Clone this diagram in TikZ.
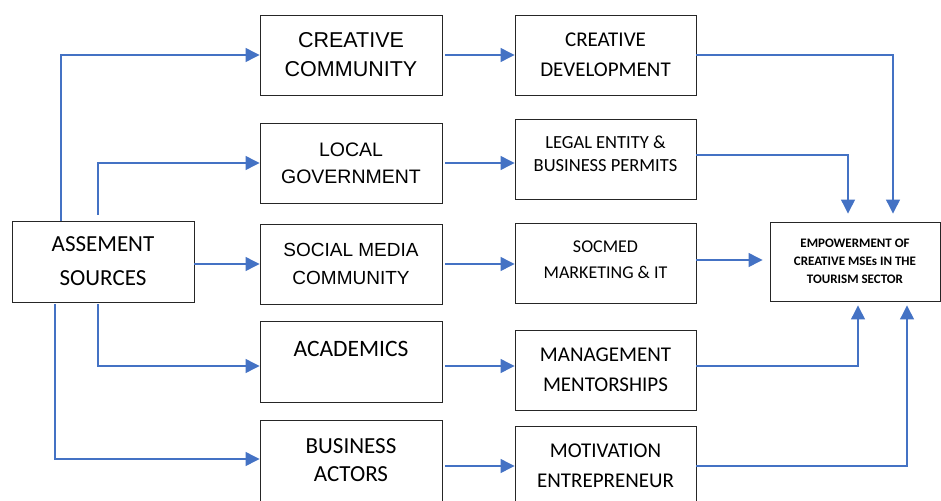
\documentclass[tikz,border=0pt]{standalone}
\usepackage{fontspec}
\setmainfont{Liberation Sans}
\newfontfamily\calib{Carlito}
\usetikzlibrary{arrows.meta}
\definecolor{arrblue}{HTML}{4472C4}

\begin{document}
\begin{tikzpicture}[
  x=1pt, y=-1pt,
  box/.style={
    rectangle, draw=black!85, line width=0.9pt,
    inner sep=0pt, align=center, fill=white,
    minimum width=182pt, minimum height=80pt
  },
  arrow/.style={-{Triangle[length=14pt, width=14pt]}, line width=1.2pt, color=arrblue}
]
\useasboundingbox (0,0) rectangle (941,500);

% Source
\node[box, minimum height=81pt, font=\calib\fontsize{23}{34}\selectfont] (asm) at (103,261.5) {ASSEMENT\\SOURCES};

% Stakeholders
\node[box, font=\fontsize{21.5}{29}\selectfont] (cc) at (351,55) {CREATIVE\\COMMUNITY};
\node[box, font=\fontsize{19.5}{27}\selectfont] (lg) at (351,163) {LOCAL\\GOVERNMENT};
\node[box, font=\fontsize{19}{27.5}\selectfont] (smc) at (351,264) {SOCIAL MEDIA\\COMMUNITY};
\node[box, minimum height=81pt, font=\calib\fontsize{23.5}{25.7}\selectfont] (acad) at (351,361.5) {ACADEMICS\\\mbox{}};
\node[box, minimum height=81pt, font=\calib\fontsize{23}{28}\selectfont] (ba) at (351,460.5) {BUSINESS\\ACTORS};

% Programmes
\node[box, minimum width=181pt, font=\calib\fontsize{21}{30}\selectfont] (cd) at (605.5,55) {CREATIVE\\DEVELOPMENT};
\node[box, minimum width=181pt, font=\calib\fontsize{18.5}{23}\selectfont] (le) at (605.5,159) {LEGAL ENTITY \&\\BUSINESS PERMITS\\[-13pt]\mbox{}};
\node[box, minimum width=181pt, font=\calib\fontsize{18}{26}\selectfont] (socm) at (605.5,263) {SOCMED\\MARKETING \& IT\\[-19pt]\mbox{}};
\node[box, minimum width=181pt, font=\calib\fontsize{21}{30}\selectfont] (mgmt) at (605.5,370) {MANAGEMENT\\MENTORSHIPS};
\node[box, minimum width=181pt, font=\calib\fontsize{21}{30}\selectfont] (mot) at (605.5,466) {MOTIVATION\\ENTREPRENEUR};

% Outcome
\node[box, minimum width=170pt, minimum height=79pt, font=\calib\bfseries\fontsize{13}{18}\selectfont] (emp) at (855,261.5) {EMPOWERMENT OF\\CREATIVE MSEs IN THE\\TOURISM SECTOR};

% Arrows: sources to stakeholders
\draw[arrow] ([xshift=-42pt]asm.north) |- (cc.west);
\draw[arrow] ([xshift=-5pt,yshift=6pt]asm.north) |- (lg.west);
\draw[arrow] (asm.east |- smc.west) -- (smc.west);
\draw[arrow] ([xshift=-5pt,yshift=-2pt]asm.south) |- ([yshift=-4.5pt]acad.west);
\draw[arrow] ([xshift=-48pt,yshift=-2pt]asm.south) |- ([yshift=1.5pt]ba.west);

% Arrows: stakeholders to programmes
\draw[arrow] ([xshift=3pt]cc.east) -- (cd.west);
\draw[arrow] ([xshift=3pt]lg.east) -- (lg.east -| le.west);
\draw[arrow] ([xshift=3pt]smc.east) -- (smc.east -| socm.west);
\draw[arrow] ([xshift=3pt,yshift=-4.5pt]acad.east) -- ([yshift=-4.5pt]acad.east -| mgmt.west);
\draw[arrow] ([xshift=3pt]mot.west -| ba.east) -- (mot.west);

% Arrows: programmes to outcome
\draw[arrow] (cd.east) -| ([xshift=38pt,yshift=8pt]emp.north);
\draw[arrow] ([yshift=4pt]le.east) -| ([xshift=-7pt,yshift=8pt]emp.north);
\draw[arrow] ([yshift=3pt]socm.east) -- ([xshift=-7pt,yshift=1.5pt]emp.west);
\draw[arrow] ([yshift=4pt]mgmt.east) -| ([xshift=3pt,yshift=-4pt]emp.south);
\draw[arrow] (mot.east) -| ([xshift=52pt,yshift=-4pt]emp.south);

\end{tikzpicture}
\end{document}
